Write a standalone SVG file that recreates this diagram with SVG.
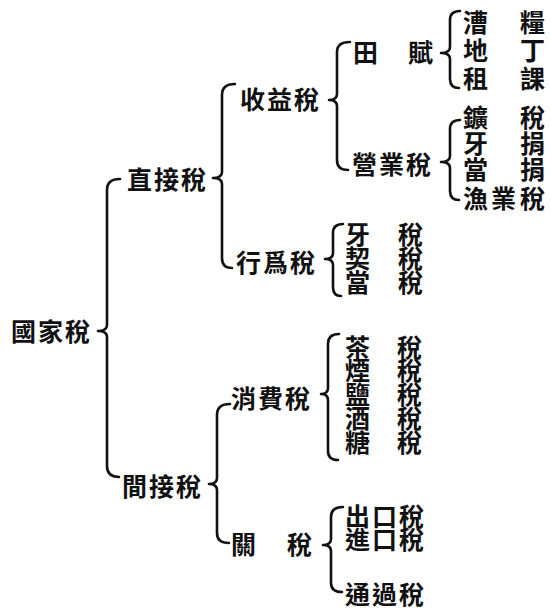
<svg xmlns="http://www.w3.org/2000/svg" width="551" height="610" viewBox="0 0 551 610">
<style>
text{font-family:"Noto Sans CJK TC","Noto Sans CJK SC",sans-serif;font-size:25px;font-weight:700;fill:#111;dominant-baseline:central}
.b{fill:none;stroke:#111;stroke-width:2.6;stroke-linecap:round;stroke-linejoin:round}
</style>
<rect width="551" height="610" fill="#fff"/>
<g id="connectors">
<path class="b" d="M120,179 Q107,179 107,190 V325 Q107,331 98,331 Q107,331 107,337 V466 Q107,477 119,477"/>
<path class="b" d="M235,84 Q222,84 222,95 V172 Q222,178 213,178 Q222,178 222,184 V258 Q222,268 232,268"/>
<path class="b" d="M230,404 Q217,404 217,415 V478 Q217,484 209,484 Q217,484 217,490 V533 Q217,543 229,543"/>
<path class="b" d="M350,42 Q337,42 337,52 V94 Q337,100 329,100 Q337,100 337,106 V160 Q337,170 348,170"/>
<path class="b" d="M343,224 Q333,224 333,233 V253 Q333,259 325,259 Q333,259 333,265 V287 Q333,296 341,296"/>
<path class="b" d="M339,334 Q328,334 328,344 V388 Q328,394 321,394 Q328,394 328,400 V451 Q328,460 338,460"/>
<path class="b" d="M343,507 Q331,507 331,517 V539 Q331,545 323,545 Q331,545 331,551 V583 Q331,592 342,592"/>
<path class="b" d="M460,11 Q450,11 450,20 V47 Q450,53 441,53 Q450,53 450,59 V79 Q450,88 459,88"/>
<path class="b" d="M460,120 Q450,120 450,129 V156 Q450,162 441,162 Q450,162 450,168 V191 Q450,200 459,200"/>
</g>
<g id="n-guojiashui"><text x="11 38 65" y="330">國家稅</text></g>
<g id="n-zhijieshui"><text x="127 154 181" y="178">直接稅</text></g>
<g id="n-jianjieshui"><text x="122 149 176" y="485">間接稅</text></g>
<g id="n-shouyishui"><text x="240 267 294" y="98">收益稅</text></g>
<g id="n-xingweishui"><text x="236 263 290" y="261">行爲稅</text></g>
<g id="n-xiaofeishui"><text x="231 258 285" y="397">消費稅</text></g>
<g id="n-guanshui"><text x="231 287" y="543">關稅</text></g>
<g id="n-tianfu"><text x="353 408" y="51">田賦</text></g>
<g id="n-yingyeshui"><text x="352 379 406" y="163">營業稅</text></g>
<g id="n-caoliang"><text x="463 520" y="21">漕糧</text></g>
<g id="n-diding"><text x="463 520" y="49">地丁</text></g>
<g id="n-zuke"><text x="463 520" y="77">租課</text></g>
<g id="n-kuangshui"><text x="463 520" y="116">鑛稅</text></g>
<g id="n-yajuan"><text x="463 520" y="142">牙捐</text></g>
<g id="n-dangjuan"><text x="463 520" y="168">當捐</text></g>
<g id="n-yuyeshui"><text x="463 491 520" y="197">漁業稅</text></g>
<g id="n-yashui"><text x="345 398" y="233">牙稅</text></g>
<g id="n-qishui"><text x="345 398" y="257">契稅</text></g>
<g id="n-dangshui"><text x="345 398" y="281">當稅</text></g>
<g id="n-chashui"><text x="345 397" y="346">茶稅</text></g>
<g id="n-yanshui"><text x="345 397" y="369">煙稅</text></g>
<g id="n-yanshui2"><text x="345 397" y="393">鹽稅</text></g>
<g id="n-jiushui"><text x="345 397" y="417">酒稅</text></g>
<g id="n-tangshui"><text x="345 397" y="441">糖稅</text></g>
<g id="n-chukoushui"><text x="345 372 399" y="515">出口稅</text></g>
<g id="n-jinkoushui"><text x="345 372 399" y="538">進口稅</text></g>
<g id="n-tongguoshui"><text x="345 372 399" y="593">通過稅</text></g>
</svg>
